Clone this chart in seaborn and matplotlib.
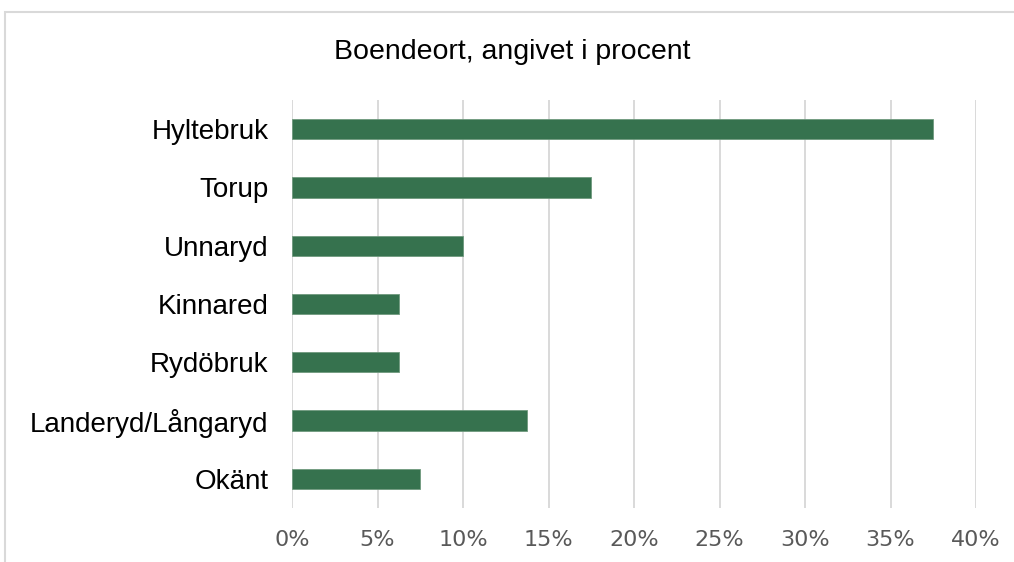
import matplotlib
matplotlib.use("Agg")
import matplotlib.pyplot as plt
import seaborn as sns
import pandas as pd
from matplotlib.patches import Rectangle
from matplotlib.ticker import FuncFormatter

categories = ["Hyltebruk", "Torup", "Unnaryd", "Kinnared", "Rydöbruk",
              "Landeryd/Långaryd", "Okänt"]
values = [37.5, 17.5, 10.0, 6.25, 6.25, 13.75, 7.5]
xticks = [0, 5, 10, 15, 20, 25, 30, 35, 40]
title = "Boendeort, angivet i procent"

df = pd.DataFrame({"ort": categories, "andel": values})

sns.set_theme(style="white")
plt.rcParams["font.family"] = ["Liberation Sans", "DejaVu Sans"]

fig = plt.figure(figsize=(10.14, 5.62), dpi=100)
ax = fig.add_axes([292 / 1014, 1 - 508 / 562, (976 - 292) / 1014, (508 - 100) / 562])

sns.barplot(data=df, x="andel", y="ort", order=categories, color="#36724e",
            saturation=1, width=0.35, ax=ax, zorder=3, edgecolor="#6f9a7e", linewidth=0.6)

ax.set_xlim(0, 40)
ax.set_ylim(6.5, -0.5)
ax.set_xticks(xticks)
ax.xaxis.set_major_formatter(FuncFormatter(lambda v, p: f"{v:.0f}%"))
ax.grid(axis="x", color="#d9d9d9", linewidth=1.4, zorder=0)
ax.set_axisbelow(True)
for s in ax.spines.values():
    s.set_visible(False)
ax.set_xlabel("")
ax.set_ylabel("")
ax.tick_params(axis="x", length=0, pad=16, labelsize=16, labelcolor="#595959")
ax.tick_params(axis="y", length=0, pad=17, labelsize=20, labelcolor="#000000")
for lab in ax.get_xticklabels():
    lab.set_fontfamily("DejaVu Sans")

fig.text(512 / 1014, 1 - 52 / 562, title, ha="center", va="center",
         fontsize=20.5, color="#000000")

# chart frame (partially cropped in reference)
fig.patches.append(Rectangle((4.5 / 1014, -0.1), 1.2, 1 - 11.5 / 562 + 0.1,
                             transform=fig.transFigure, fill=False,
                             edgecolor="#d9d9d9", linewidth=1.5))

fig.savefig("out.png", dpi=100, facecolor="white")
